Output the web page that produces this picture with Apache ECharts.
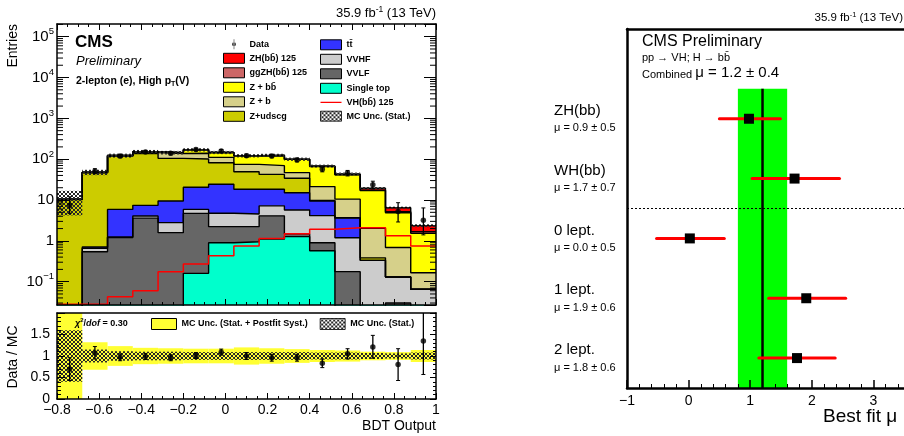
<!DOCTYPE html>
<html>
<head>
<meta charset="utf-8">
<script src="https://cdn.jsdelivr.net/npm/echarts@6.0.0/dist/echarts.min.js"></script>
<style>html,body{margin:0;padding:0;background:#fff;}#chart{width:904px;height:436px;}</style>
</head>
<body>
<div id="chart"></div>
<script>
// ---------------- data ----------------
const binEdges = [-0.8, -0.68, -0.56, -0.44, -0.32, -0.2, -0.08, 0.04, 0.16, 0.28, 0.4, 0.52, 0.64, 0.76, 0.88, 1.0];
// per-process expected events, stacked bottom -> top
const singleTop = [0, 0, 0, 0, 0, 0.16, 0.90, 0.95, 1.10, 1.27, 0.57, 0, 0, 0, 0];
const vvlf      = [0, 0.54, 1.2, 3.6, 1.59, 4.54, 1.33, 1.28, 3.0, 0.21, 0.33, 0.176, 0.003, 0.03, 0];
const vvhf      = [0, 0.12, 0.05, 0.47, 1.21, 1.2, 2.52, 2.33, 3.1, 4.2, 3.24, 1.02, 0.33, 0.1, 0.065];
const ttbar     = [0, 0.05, 4.65, 3.33, 6.7, 14.6, 19.5, 13.8, 11.2, 9.4, 5.36, 2.4, 0, 0, 0];
const zudscg    = [10.2, 45.8, 112, 130.6, 95.5, 80.5, 57.7, 31, 24, 19, 0.3, 0.1, 0.05, 0, 0];
const zb        = [0.2, 0.8, 3, 8, 33, 39, 29, 25.5, 27, 12.7, 11.5, 6.8, 1.65, 0.56, 0.10];
const zbb       = [0.1, 0.5, 2, 7, 7, 30, 35, 46, 54, 52, 45, 31, 15, 4.2, 1.36];
const ggzh      = [0, 0, 0, 0, 0, 0.05, 0.1, 0.15, 0.2, 0.25, 0.3, 0.4, 0.4, 0.3, 0.15];
const zh        = [0, 0, 0, 0.01, 0.02, 0.2, 0.3, 0.5, 0.8, 1.1, 1.4, 1.6, 2.0, 1.3, 0.68];
const vhSignal  = [0.028, 0.028, 0.043, 0.060, 0.176, 0.27, 0.43, 0.75, 1.15, 1.5, 1.92, 2.1, 2.1, 1.34, 0.75];
const dataCounts = [7.4, 51, 119, 151, 139, 172, 159, 122, 119, 96, 56.5, 45.7, 23.5, 5.2, 3.2];
const dataErrLo  = [2.7, 7.1, 10.9, 12.3, 11.8, 13.1, 12.6, 11.0, 10.9, 9.8, 7.5, 6.8, 4.8, 2.3, 1.8];
const dataErrHi  = [4.6, 7.6, 11.4, 12.8, 12.3, 13.6, 13.1, 11.6, 11.4, 10.3, 8.0, 7.3, 5.4, 3.4, 3.2];
// relative MC uncertainties
const statUnc = [0.60, 0.15, 0.11, 0.10, 0.10, 0.09, 0.09, 0.09, 0.09, 0.09, 0.08, 0.08, 0.07, 0.06, 0.08];
const totUnc  = [1.20, 0.32, 0.23, 0.19, 0.18, 0.17, 0.17, 0.20, 0.18, 0.16, 0.14, 0.13, 0.10, 0.09, 0.14];
// Data / MC
const ratio      = [0.70, 1.07, 0.97, 0.99, 0.96, 1.01, 1.09, 1.00, 0.96, 0.96, 0.83, 1.05, 1.21, 0.80, 1.35];
const ratioErrLo = [0.27, 0.14, 0.08, 0.07, 0.07, 0.07, 0.07, 0.08, 0.08, 0.08, 0.10, 0.12, 0.26, 0.37, 0.78];
const ratioErrHi = [0.26, 0.15, 0.08, 0.07, 0.07, 0.07, 0.07, 0.08, 0.08, 0.08, 0.10, 0.12, 0.27, 0.37, 1.00];
const chi2dof = 0.30;
// right panel: best fit signal strengths
const fitCategories = ['ZH(bb)', 'WH(bb)', '0 lept.', '1 lept.', '2 lept.'];
const fitCenter = [0.98, 1.72, 0.02, 1.91, 1.76];
const fitLow    = [0.50, 1.03, -0.52, 1.30, 1.14];
const fitHigh   = [1.49, 2.45, 0.58, 2.55, 2.38];
const fitLabelMu  = [0.9, 1.7, 0.0, 1.9, 1.8];
const fitLabelErr = [0.5, 0.7, 0.5, 0.6, 0.6];
const combinedMu = 1.2, combinedErr = 0.4;

// ---------------- styling / helpers ----------------
const FONT = '"Liberation Sans", Arial, Helvetica, sans-serif';
const BAR = '\u0304';
const procs = [
  { name: 'Single top', v: singleTop, color: '#00ffcc' },
  { name: 'VVLF', v: vvlf, color: '#666666' },
  { name: 'VVHF', v: vvhf, color: '#cccccc' },
  { name: 'tt' + BAR, v: ttbar, color: '#3333ff' },
  { name: 'Z+udscg', v: zudscg, color: '#cccc00' },
  { name: 'Z + b', v: zb, color: '#d6d08a' },
  { name: 'Z + bb' + BAR, v: zbb, color: '#ffff00' },
  { name: 'ggZH(bb' + BAR + ') 125', v: ggzh, color: '#cc6666' },
  { name: 'ZH(bb' + BAR + ') 125', v: zh, color: '#ff0000' }
];
const colorOf = {}; procs.forEach(p => colorOf[p.name] = p.color);
const nb = binEdges.length - 1;
const centers = binEdges.slice(0, -1).map((e, i) => (e + binEdges[i + 1]) / 2);
let run = new Array(nb).fill(0);
const cum = procs.map(p => { run = run.map((r, i) => r + p.v[i]); return run.slice(); });
const mcTotal = cum[cum.length - 1];
const FLOOR = 1e-3;
const stepData = arr => binEdges.map((e, i) => [e, Math.max(arr[Math.min(i, nb - 1)], FLOOR)]);

const LOGMIN = Math.pow(10, -1.571), LOGMAX = Math.pow(10, 5.311);

function makeHatch() {
  const c = document.createElement('canvas'); c.width = 4; c.height = 4;
  const g = c.getContext('2d'); g.fillStyle = '#262626';
  for (let i = 0; i < 4; i++) { g.fillRect(i, i, 1, 1); g.fillRect(3 - i, i, 1, 1); }
  return { image: c, repeat: 'repeat' };
}
const hatch = makeHatch();

function bandRender(fill) {
  return function (params, api) {
    const p0 = api.coord([api.value(0), api.value(3)]);
    const p1 = api.coord([api.value(1), api.value(2)]);
    const cs = params.coordSys;
    const shape = echarts.graphic.clipRectByRect(
      { x: p0[0], y: p0[1], width: p1[0] - p0[0], height: p1[1] - p0[1] },
      { x: cs.x, y: cs.y, width: cs.width, height: cs.height });
    if (!shape) return null;
    return { type: 'rect', shape: shape, style: { fill: fill, stroke: null } };
  };
}
function errRender(params, api) {
  const x = api.value(0);
  const pl = api.coord([x, api.value(1)]);
  const ph = api.coord([x, api.value(2)]);
  const cs = params.coordSys;
  const yTop = Math.max(ph[1], cs.y), yBot = Math.min(pl[1], cs.y + cs.height);
  const ch = [{ type: 'line', shape: { x1: pl[0], y1: yTop, x2: pl[0], y2: yBot }, style: { stroke: '#000', lineWidth: 1.3 } }];
  if (ph[1] >= cs.y) ch.push({ type: 'line', shape: { x1: ph[0] - 2, y1: ph[1], x2: ph[0] + 2, y2: ph[1] }, style: { stroke: '#000', lineWidth: 1 } });
  if (pl[1] <= cs.y + cs.height) ch.push({ type: 'line', shape: { x1: pl[0] - 2, y1: pl[1], x2: pl[0] + 2, y2: pl[1] }, style: { stroke: '#000', lineWidth: 1 } });
  return { type: 'group', children: ch };
}

const axisLineStyle = w => ({ show: true, onZero: false, lineStyle: { color: '#000', width: w } });
const tickStyle = (len) => ({ show: true, inside: true, length: len, lineStyle: { color: '#000', width: 1 } });
const minorStyle = (n, len) => ({ show: true, splitNumber: n, length: len, lineStyle: { color: '#000', width: 1 } });
const numFmt = v => { const s = String(+v.toFixed(1)); return s.replace('-', '\u2212'); };
const logFmt = v => {
  const l = Math.log10(v), e = Math.round(l);
  if (Math.abs(l - e) > 1e-6) return '';
  if (e === 0) return '1';
  if (e === 1) return '10';
  return '10{s|' + (e < 0 ? '\u2212' : '') + Math.abs(e) + '}';
};

// log minor tick positions (2..9 x 10^n)
const logMinor = [];
for (let e = -2; e <= 5; e++) for (let m = 2; m <= 9; m++) { const v = m * Math.pow(10, e); if (v > LOGMIN && v < LOGMAX) logMinor.push([binEdges[0], v]); }

// ---------------- series ----------------
const series = [];
procs.slice().reverse().forEach(p => {
  const k = procs.indexOf(p);
  series.push({
    type: 'line', name: p.name, xAxisIndex: 0, yAxisIndex: 0, step: 'end', symbol: 'none', silent: true,
    data: stepData(cum[k]), color: p.color,
    lineStyle: { color: '#000', width: 1.4 },
    areaStyle: { color: p.color, opacity: 1, origin: 'start' }, z: 2
  });
});
const vhName = 'VH(bb' + BAR + ') 125';
series.push({
  type: 'line', name: vhName, xAxisIndex: 0, yAxisIndex: 0, step: 'end', symbol: 'none', silent: true,
  data: stepData(vhSignal), color: '#ff0000', lineStyle: { color: '#ff0000', width: 1.5 }, z: 3
});
series.push({
  type: 'custom', name: 'MC Unc. (Stat.)', xAxisIndex: 0, yAxisIndex: 0, z: 4, silent: true,
  data: centers.map((c, i) => [binEdges[i], binEdges[i + 1], mcTotal[i] * (1 - statUnc[i]), mcTotal[i] * (1 + statUnc[i])]),
  renderItem: bandRender(hatch)
});
series.push({
  type: 'custom', name: 'dataErr', xAxisIndex: 0, yAxisIndex: 0, z: 5, silent: true,
  data: centers.map((c, i) => [c, dataCounts[i] - dataErrLo[i], dataCounts[i] + dataErrHi[i]]),
  renderItem: errRender
});
series.push({
  type: 'scatter', name: 'Data', xAxisIndex: 0, yAxisIndex: 0, z: 6, silent: true,
  symbol: 'circle', symbolSize: 5.5, itemStyle: { color: '#000' },
  data: centers.map((c, i) => [c, dataCounts[i]])
});
series.push({
  type: 'custom', name: 'logMinorTicks', xAxisIndex: 0, yAxisIndex: 0, z: 12, silent: true, data: logMinor,
  renderItem: (params, api) => {
    const cs = params.coordSys; const y = api.coord([api.value(0), api.value(1)])[1];
    return { type: 'group', children: [
      { type: 'line', shape: { x1: cs.x, y1: y, x2: cs.x + 6, y2: y }, style: { stroke: '#000', lineWidth: 1 } },
      { type: 'line', shape: { x1: cs.x + cs.width - 6, y1: y, x2: cs.x + cs.width, y2: y }, style: { stroke: '#000', lineWidth: 1 } }
    ] };
  }
});
// ratio panel
series.push({
  type: 'custom', name: 'MC Unc. (Stat. + Postfit Syst.)', xAxisIndex: 2, yAxisIndex: 2, z: 2, silent: true,
  data: centers.map((c, i) => [binEdges[i], binEdges[i + 1], 1 - totUnc[i], 1 + totUnc[i]]),
  renderItem: bandRender('#ffff33')
});
series.push({
  type: 'custom', name: 'MC Unc. (Stat.)', xAxisIndex: 2, yAxisIndex: 2, z: 3, silent: true,
  data: centers.map((c, i) => [binEdges[i], binEdges[i + 1], 1 - statUnc[i], 1 + statUnc[i]]),
  renderItem: bandRender(hatch)
});
series.push({
  type: 'custom', name: 'ratioErr', xAxisIndex: 2, yAxisIndex: 2, z: 5, silent: true,
  data: centers.map((c, i) => [c, ratio[i] - ratioErrLo[i], ratio[i] + ratioErrHi[i]]),
  renderItem: errRender
});
series.push({
  type: 'scatter', name: 'ratio', xAxisIndex: 2, yAxisIndex: 2, z: 6, silent: true,
  symbol: 'circle', symbolSize: 5.5, itemStyle: { color: '#000' },
  data: centers.map((c, i) => [c, ratio[i]])
});
// right panel
const nCat = fitCategories.length;
series.push({
  type: 'custom', name: 'combined', xAxisIndex: 4, yAxisIndex: 4, z: 2, silent: true,
  data: [[combinedMu, combinedErr]],
  renderItem: (params, api) => {
    const c = api.value(0), e = api.value(1), cs = params.coordSys;
    const tl = api.coord([c - e, nCat]), br = api.coord([c + e, 0]);
    const lt = api.coord([c, nCat]), lb = api.coord([c, 0]);
    const sep = api.coord([c, nCat - 2])[1];
    return { type: 'group', children: [
      { type: 'rect', shape: { x: tl[0], y: tl[1], width: br[0] - tl[0], height: br[1] - tl[1] }, style: { fill: '#00ff00' } },
      { type: 'line', shape: { x1: lt[0], y1: lt[1], x2: lb[0], y2: lb[1] }, style: { stroke: '#000', lineWidth: 2.5 } },
      { type: 'line', shape: { x1: cs.x, y1: sep, x2: cs.x + cs.width, y2: sep }, style: { stroke: '#000', lineWidth: 1, lineDash: [2, 2] } }
    ] };
  }
});
series.push({
  type: 'custom', name: 'fits', xAxisIndex: 4, yAxisIndex: 4, z: 5, silent: true,
  data: fitCategories.map((c, i) => [fitCenter[i], fitLow[i], fitHigh[i], i]),
  renderItem: (params, api) => {
    const i = api.value(3), cs = params.coordSys;
    const yv = nCat - i - 0.5;
    const pc = api.coord([api.value(0), yv]), pl = api.coord([api.value(1), yv]), ph = api.coord([api.value(2), yv]);
    return { type: 'group', children: [
      { type: 'line', shape: { x1: pl[0], y1: pc[1], x2: ph[0], y2: pc[1] }, style: { stroke: '#ff0000', lineWidth: 3, lineCap: 'round' } },
      { type: 'rect', shape: { x: pc[0] - 5, y: pc[1] - 5, width: 10, height: 10 }, style: { fill: '#000' } },
      { type: 'text', x: cs.x - 73, y: pc[1] - 8, style: { text: fitCategories[i], font: '15px ' + FONT, fill: '#000', align: 'left', verticalAlign: 'middle', textAlign: 'left', textVerticalAlign: 'middle' } },
      { type: 'text', x: cs.x - 73, y: pc[1] + 9.5, style: { text: '\u03bc = ' + fitLabelMu[i].toFixed(1) + ' \u00b1 ' + fitLabelErr[i].toFixed(1), font: '11px ' + FONT, fill: '#000', align: 'left', verticalAlign: 'middle', textAlign: 'left', textVerticalAlign: 'middle' } }
    ] };
  }
});

// ---------------- legends ----------------
const legText = { fontFamily: FONT, fontWeight: 'bold', fontSize: 9, color: '#000', lineHeight: 10 };
const boxItem = (name, fill) => ({ name: name, icon: 'rect', itemStyle: { color: fill, borderColor: '#000', borderWidth: 1 } });
const dataIcon = 'path://M0,0h0.01v0.01h-0.01Z M21,10h-0.01v-0.01h0.01Z M10.2,0h0.6v10h-0.6Z M8.5,5a2,2 0 1,0 4,0a2,2 0 1,0 -4,0Z';
const lineIcon = 'path://M0,0h0.01v0.01h-0.01Z M21,10h-0.01v-0.01h0.01Z M0,4.4h21v1.2h-21Z';
const legBase = { orient: 'vertical', padding: 0, itemWidth: 21, itemHeight: 10, itemGap: 3.5, selectedMode: false, textStyle: legText, top: 39.3 };

// ---------------- text helpers ----------------
const T = (x, y, text, font, extra) => Object.assign({ type: 'text', x: x, y: y, z: 100, silent: true,
  style: Object.assign({ text: text, font: font + ' ' + FONT, fill: '#000', align: 'left', verticalAlign: 'middle', textAlign: 'left', textVerticalAlign: 'middle' }, (extra && extra.style) || {}) },
  extra ? { rotation: extra.rotation || 0 } : {});

const option = {
  animation: false,
  backgroundColor: '#fff',
  textStyle: { fontFamily: FONT },
  grid: [
    { left: 57, top: 24, width: 379, height: 281, outerBoundsMode: 'none', containLabel: false },
    { left: 57, top: 313, width: 379, height: 86, outerBoundsMode: 'none', containLabel: false },
    { left: 627, top: 29, width: 308, height: 359, outerBoundsMode: 'none', containLabel: false }
  ],
  xAxis: [
    { gridIndex: 0, type: 'value', min: -0.8, max: 1, interval: 0.2, position: 'bottom', z: 10, axisLine: axisLineStyle(1.5), axisTick: tickStyle(6), minorTick: minorStyle(4, 3), axisLabel: { show: false }, splitLine: { show: false } },
    { gridIndex: 0, type: 'value', min: -0.8, max: 1, interval: 0.2, position: 'top', z: 10, axisLine: axisLineStyle(1.5), axisTick: tickStyle(6), minorTick: minorStyle(4, 3), axisLabel: { show: false }, splitLine: { show: false } },
    { gridIndex: 1, type: 'value', min: -0.8, max: 1, interval: 0.2, position: 'bottom', z: 10, axisLine: axisLineStyle(1.5), axisTick: tickStyle(6), minorTick: minorStyle(4, 3), splitLine: { show: false },
      axisLabel: { show: true, formatter: numFmt, fontSize: 14, color: '#000', margin: 4, fontFamily: FONT } },
    { gridIndex: 1, type: 'value', min: -0.8, max: 1, position: 'top', z: 10, axisLine: axisLineStyle(1.5), axisTick: { show: false }, axisLabel: { show: false }, splitLine: { show: false } },
    { gridIndex: 2, type: 'value', min: -1, max: 4, interval: 1, position: 'bottom', z: 10, axisLine: axisLineStyle(2.5), axisTick: { show: true, inside: true, length: 8, lineStyle: { color: '#000', width: 1.5 } }, minorTick: minorStyle(5, 4), splitLine: { show: false },
      axisLabel: { show: true, formatter: numFmt, fontSize: 14, color: '#000', margin: 6, fontFamily: FONT } },
    { gridIndex: 2, type: 'value', min: -1, max: 4, position: 'top', z: 10, axisLine: axisLineStyle(2.5), axisTick: { show: false }, axisLabel: { show: false }, splitLine: { show: false } }
  ],
  yAxis: [
    { gridIndex: 0, type: 'log', logBase: 10, min: LOGMIN, max: LOGMAX, position: 'left', z: 10, axisLine: axisLineStyle(1.5), axisTick: tickStyle(12), splitLine: { show: false },
      axisLabel: { show: true, formatter: logFmt, showMinLabel: false, showMaxLabel: false, fontSize: 15, lineHeight: 20, color: '#000', margin: 3, fontFamily: FONT,
        rich: { s: { fontSize: 9.5, lineHeight: 10, verticalAlign: 'top', fontFamily: FONT, color: '#000' } } } },
    { gridIndex: 0, type: 'log', logBase: 10, min: LOGMIN, max: LOGMAX, position: 'right', z: 10, axisLine: axisLineStyle(1.5), axisTick: tickStyle(12), axisLabel: { show: false }, splitLine: { show: false } },
    { gridIndex: 1, type: 'value', min: 0, max: 2, interval: 0.5, position: 'left', z: 10, axisLine: axisLineStyle(1.5), axisTick: tickStyle(8), minorTick: minorStyle(5, 4), splitLine: { show: false },
      axisLabel: { show: true, showMaxLabel: false, formatter: numFmt, fontSize: 14, color: '#000', margin: 7, fontFamily: FONT } },
    { gridIndex: 1, type: 'value', min: 0, max: 2, interval: 0.5, position: 'right', z: 10, axisLine: axisLineStyle(1.5), axisTick: tickStyle(6), minorTick: minorStyle(5, 3), axisLabel: { show: false }, splitLine: { show: false } },
    { gridIndex: 2, type: 'value', min: 0, max: nCat + 1, position: 'left', z: 10, axisLine: axisLineStyle(2.5), axisTick: { show: false }, axisLabel: { show: false }, splitLine: { show: false } }
  ],
  legend: [
    Object.assign({}, legBase, { left: 223, data: [
      { name: 'Data', icon: dataIcon, itemStyle: { color: '#000', borderWidth: 0 } },
      boxItem(procs[8].name, colorOf[procs[8].name]),
      boxItem(procs[7].name, colorOf[procs[7].name]),
      boxItem(procs[6].name, colorOf[procs[6].name]),
      boxItem(procs[5].name, colorOf[procs[5].name]),
      boxItem(procs[4].name, colorOf[procs[4].name])
    ] }),
    Object.assign({}, legBase, { left: 320, data: [
      boxItem(procs[3].name, colorOf[procs[3].name]),
      boxItem(procs[2].name, colorOf[procs[2].name]),
      boxItem(procs[1].name, colorOf[procs[1].name]),
      boxItem(procs[0].name, colorOf[procs[0].name]),
      { name: vhName, icon: lineIcon, itemStyle: { color: '#ff0000', borderWidth: 0 } },
      { name: 'MC Unc. (Stat.)', icon: 'rect', itemStyle: { color: hatch, borderColor: '#000', borderWidth: 0.8 } }
    ] }),
    { orient: 'horizontal', padding: 0, left: 151, top: 318, itemWidth: 25, itemHeight: 11, itemGap: 12, selectedMode: false, textStyle: legText,
      data: [
        { name: 'MC Unc. (Stat. + Postfit Syst.)', icon: 'rect', itemStyle: { color: '#ffff33', borderColor: '#000', borderWidth: 1 } },
        { name: 'MC Unc. (Stat.)', icon: 'rect', itemStyle: { color: hatch, borderColor: '#000', borderWidth: 0.8 } }
      ] }
  ],
  graphic: [
    T(75, 42, 'CMS', 'bold 17px'),
    T(76, 61.5, 'Preliminary', 'italic 13px'),
    T(76, 81, '2-lepton (e), High p{sub|T}(V)', 'bold 10.5px', { style: { lineHeight: 14, rich: { sub: { fontSize: 7, fontWeight: 'bold', lineHeight: 7, verticalAlign: 'bottom', fontFamily: FONT } } } }),
    T(436, 13, '35.9 fb{sup|-1} (13 TeV)', '13px', { style: { align: 'right', textAlign: 'right', lineHeight: 16, rich: { sup: { fontSize: 8.5, lineHeight: 8, verticalAlign: 'top', fontFamily: FONT } } } }),
    T(75, 323.5, '{i|\u03c7}{sup|2}/{i|dof} = ' + chi2dof.toFixed(2), 'bold 9px', { style: { lineHeight: 12, rich: { i: { fontStyle: 'italic', fontWeight: 'bold', fontSize: 9, fontFamily: FONT, lineHeight: 12 }, sup: { fontSize: 6, fontWeight: 'bold', lineHeight: 6, verticalAlign: 'top', fontFamily: FONT } } } }),
    T(13, 24, 'Entries', '14px', { rotation: Math.PI / 2, style: { align: 'right', textAlign: 'right' } }),
    T(13, 357, 'Data / MC', '14px', { rotation: Math.PI / 2, style: { align: 'center', textAlign: 'center' } }),
    T(436, 426, 'BDT Output', '14px', { style: { align: 'right', textAlign: 'right' } }),
    T(903, 17.5, '35.9 fb{sup|-1} (13 TeV)', '11.5px', { style: { align: 'right', textAlign: 'right', lineHeight: 14, rich: { sup: { fontSize: 7.5, lineHeight: 7, verticalAlign: 'top', fontFamily: FONT } } } }),
    T(642, 41.5, 'CMS Preliminary', '16px'),
    T(642, 57.5, 'pp \u2192 VH; H \u2192 bb' + BAR, '11px'),
    T(642, 72.5, '{a|Combined }{m|\u03bc = ' + combinedMu.toFixed(1) + ' \u00b1 ' + combinedErr.toFixed(1) + '}', '11px',
      { style: { rich: { a: { fontSize: 11, lineHeight: 16, verticalAlign: 'bottom', fontFamily: FONT }, m: { fontSize: 15, lineHeight: 16, verticalAlign: 'bottom', fontFamily: FONT } } } }),
    T(823, 417, 'Best fit \u03bc', '19px')
  ],
  series: series
};

const chart = echarts.init(document.getElementById('chart'), null, { renderer: 'canvas' });
chart.setOption(option);
</script>
</body>
</html>
